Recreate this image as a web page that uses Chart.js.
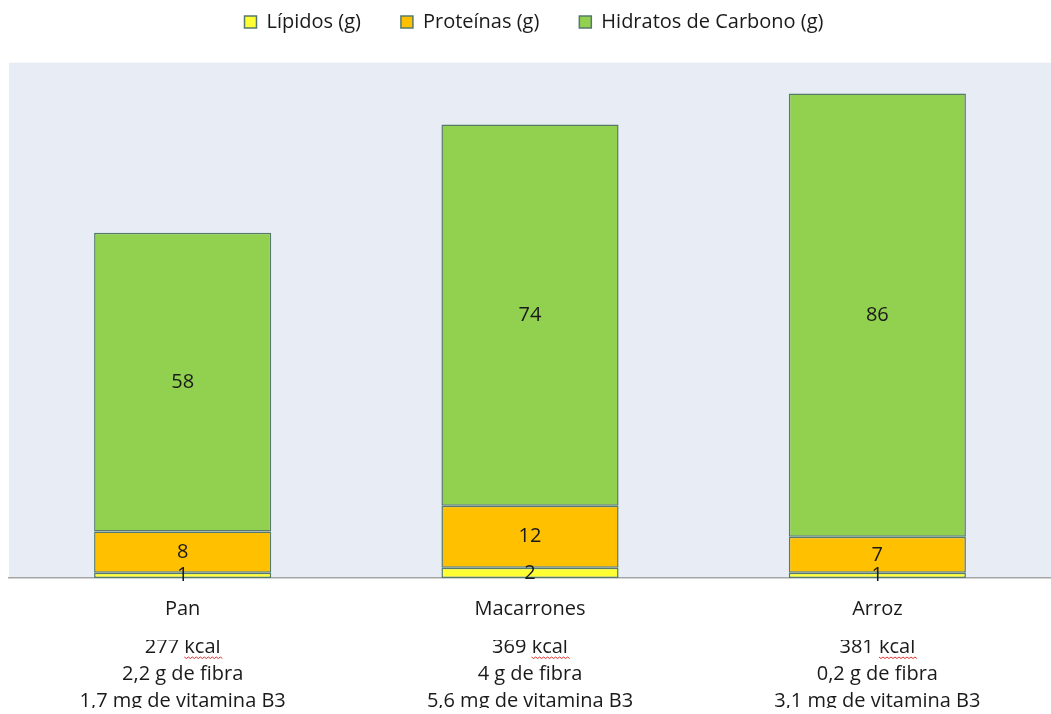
<!DOCTYPE html>
<html>
<head>
<meta charset="utf-8">
<script src="https://cdn.jsdelivr.net/npm/chart.js@4"></script>
<style>
  body { margin: 0; background: #fff; }
  #box { width: 1051px; height: 714px; }
</style>
</head>
<body>
<div id="box"><canvas id="grafico"></canvas></div>
<script>
// datos
const alimentos = ["Pan", "Macarrones", "Arroz"];
const lipidos = [1, 2, 1];
const proteinas = [8, 12, 7];
const hidratos = [58, 74, 86];
const infoAlimentos = [
  ["277 kcal", "2,2 g de fibra", "1,7 mg de vitamina B3"],
  ["369 kcal", "4 g de fibra", "5,6 mg de vitamina B3"],
  ["381 kcal", "0,2 g de fibra", "3,1 mg de vitamina B3"]
];

const fuente = "'Open Sans', 'Noto Sans', sans-serif";
Chart.defaults.font.family = fuente;
Chart.defaults.color = "#1a1a1a";

const tamLetra = 20;
const altoLinea = 1.35;
const padInfo = -6.5;
const padLeyenda = 40;

// fondo del area del grafico (desde el valor 100 hacia abajo)
const fondo = {
  id: "fondo",
  beforeDraw(chart) {
    const a = chart.chartArea;
    const y = chart.scales.y;
    const arriba = y.getPixelForValue(100);
    const ctx = chart.ctx;
    ctx.save();
    ctx.fillStyle = "#e8ecf4";
    ctx.fillRect(a.left, arriba, a.right - a.left, a.bottom - arriba);
    ctx.restore();
  }
};

// valores dentro de las barras
const etiquetas = {
  id: "etiquetas",
  afterDatasetsDraw(chart) {
    const ctx = chart.ctx;
    ctx.save();
    ctx.font = tamLetra + "px " + fuente;
    ctx.fillStyle = "#1a1a1a";
    ctx.textAlign = "center";
    ctx.textBaseline = "middle";
    chart.data.datasets.forEach(function (ds, i) {
      const meta = chart.getDatasetMeta(i);
      meta.data.forEach(function (bar, j) {
        const y = (bar.y + bar.base) / 2;
        ctx.fillText(ds.data[j], bar.x, y);
      });
    });
    ctx.restore();
  }
};

// subrayado ondulado rojo bajo "kcal" (corrector ortografico)
const ondulado = {
  id: "ondulado",
  afterDraw(chart) {
    const esc = chart.scales.x2;
    const ctx = chart.ctx;
    ctx.save();
    ctx.font = tamLetra + "px " + fuente;
    ctx.strokeStyle = "#e03030";
    ctx.lineWidth = 1;
    const yBase = esc.top + padInfo + tamLetra * altoLinea / 2 + 10;
    infoAlimentos.forEach(function (lineas, i) {
      const txt = lineas[0];
      const total = ctx.measureText(txt).width;
      const antes = ctx.measureText(txt.replace("kcal", "")).width;
      const cx = esc.getPixelForTick(i);
      let x0 = cx - total / 2 + antes;
      const x1 = cx + total / 2;
      ctx.beginPath();
      ctx.moveTo(x0, yBase);
      let k = 0;
      while (x0 < x1) {
        x0 += 2;
        k++;
        ctx.lineTo(x0, yBase + (k % 2 ? 1.5 : 0));
      }
      ctx.stroke();
    });
    ctx.restore();
  }
};

const ctx = document.getElementById("grafico");

new Chart(ctx, {
  type: "bar",
  data: {
    labels: alimentos,
    datasets: [
      { label: "Lípidos (g)", data: lipidos, backgroundColor: "#ffff33" },
      { label: "Proteínas (g)", data: proteinas, backgroundColor: "#ffc000" },
      { label: "Hidratos de Carbono (g)", data: hidratos, backgroundColor: "#92d050" }
    ]
  },
  options: {
    responsive: true,
    maintainAspectRatio: false,
    animation: false,
    datasets: {
      bar: {
        borderColor: "#557a6a",
        borderWidth: 1.5,
        borderSkipped: false,
        categoryPercentage: 1,
        barPercentage: 0.51
      }
    },
    layout: { padding: { left: 9, right: -8, top: 12 - padLeyenda, bottom: 6 } },
    plugins: {
      legend: {
        position: "top",
        labels: {
          boxWidth: 12,
          boxHeight: 12,
          padding: padLeyenda,
          color: "#1a1a1a",
          font: { size: tamLetra }
        }
      },
      tooltip: { enabled: false }
    },
    scales: {
      x: {
        stacked: true,
        grid: { display: false, drawTicks: false },
        border: { color: "#a6a6a6", width: 1.5 },
        ticks: { padding: 19, color: "#1a1a1a", font: { size: tamLetra } }
      },
      x2: {
        type: "category",
        position: "bottom",
        labels: infoAlimentos,
        grid: { display: false, drawTicks: false },
        border: { display: false },
        ticks: { padding: padInfo, color: "#1a1a1a", font: { size: tamLetra, lineHeight: altoLinea } }
      },
      y: {
        stacked: true,
        display: false,
        min: 0,
        max: 104
      }
    }
  },
  plugins: [fondo, etiquetas, ondulado]
});
</script>
</body>
</html>
